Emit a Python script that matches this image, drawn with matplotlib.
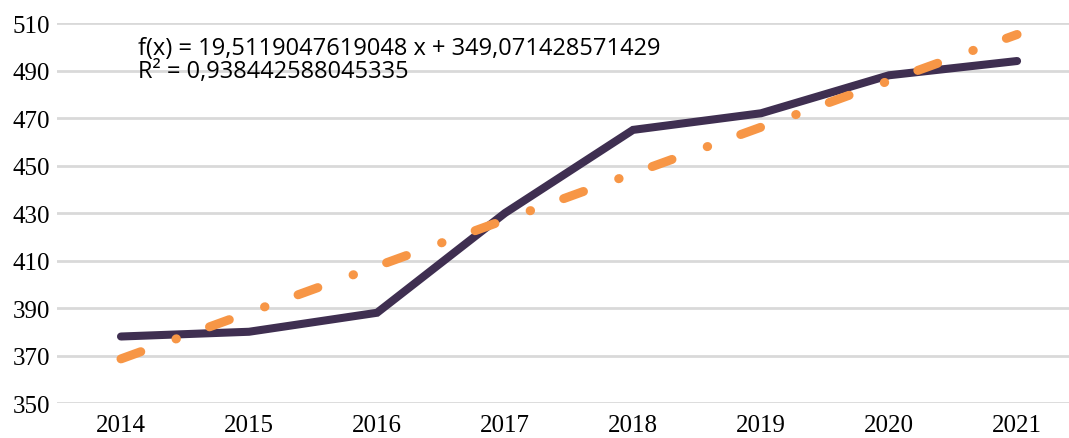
import numpy as np
import matplotlib.pyplot as plt

years = ['2014', '2015', '2016', '2017', '2018', '2019', '2020', '2021']
values = [378, 380, 388, 430, 465, 472, 488, 494]

x = np.arange(len(years))
# linear trend, x counted from 1 like the spreadsheet
xs = x + 1
y = np.array(values, dtype=float)
slope = ((xs - xs.mean()) * (y - y.mean())).sum() / ((xs - xs.mean()) ** 2).sum()
intercept = y.mean() - slope * xs.mean()
trend = slope * xs + intercept
r2 = np.corrcoef(xs, y)[0, 1] ** 2

fig = plt.figure(figsize=(10.69, 4.39), dpi=100)
ax = fig.add_axes([0.0533, 0.0797, 0.958, 0.8656])

ax.plot(x, values, color='#3f2f51', lw=5.8, solid_capstyle='round',
        solid_joinstyle='miter', zorder=3)
ax.plot(x, trend, color='#f79646', lw=6.5, dashes=(2.33, 4.15, 0.05, 3.9),
        dash_capstyle='round', zorder=4)

ax.set_xlim(-0.5, 7.5)
ax.set_ylim(350, 510)
ax.set_yticks(range(350, 511, 20))
ax.set_xticks(x)
ax.set_xticklabels(years)
ax.grid(axis='y', color='#d9d9d9', lw=2)
ax.set_axisbelow(True)
for s in ax.spines.values():
    s.set_visible(False)
ax.tick_params(length=0, labelsize=18)
ax.tick_params(axis='y', pad=5)
ax.tick_params(axis='x', pad=8)
for lab in ax.get_xticklabels() + ax.get_yticklabels():
    lab.set_family('Liberation Serif')

def comma(v, n):
    return f'{v:.{n}f}'.replace('.', ',')

txt = f'f(x) = {comma(slope, 13)} x + {comma(intercept, 12)}\nR² = {comma(r2, 15)}'
ax.text(0.079, 0.966, txt, transform=ax.transAxes, family='Open Sans',
        fontsize=17, va='top', ha='left', linespacing=0.96)

fig.savefig('out.png', dpi=100)
